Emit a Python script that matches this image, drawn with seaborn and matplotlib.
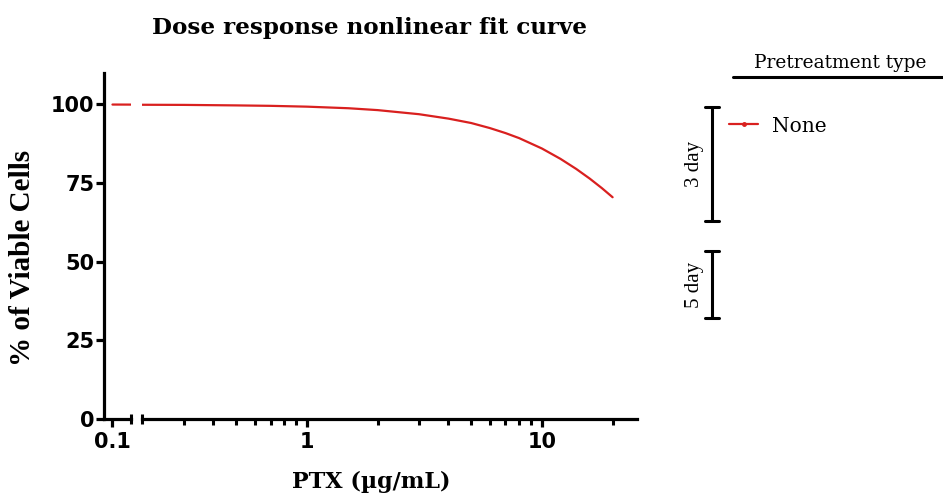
import numpy as np
import pandas as pd
import matplotlib
matplotlib.use("Agg")
import matplotlib.pyplot as plt
import seaborn as sns
from matplotlib.lines import Line2D
from matplotlib.ticker import FixedLocator, FixedFormatter, NullFormatter

# ---- data ----
ptx_conc = [0.1, 0.2, 0.3, 0.5, 0.7, 1, 1.5, 2, 3, 4, 5, 6, 7, 8, 10, 12, 14, 16, 18, 20]
viable_pct = [99.97, 99.9, 99.86, 99.7, 99.56, 99.3, 98.8, 98.2, 96.9, 95.5,
              94.1, 92.5, 90.9, 89.3, 86.0, 82.7, 79.5, 76.4, 73.4, 70.5]
series_name = "None"
y_ticks = [0, 25, 50, 75, 100]
x_major_left = [0.1]
x_major_labels_left = ["0.1"]
x_major_right = [1, 10]
x_major_labels_right = ["1", "10"]
x_minor_right = [0.3, 0.4, 0.5, 0.6, 0.7, 0.8, 0.9, 2, 3, 4, 5, 6, 7, 8, 9, 20]

df = pd.DataFrame({"PTX": ptx_conc, "Viable": viable_pct, "Pretreatment": series_name})

sns.set_style("ticks")
plt.rcParams["font.family"] = ["DejaVu Sans"]
for k in ("text.color", "axes.labelcolor", "xtick.color", "ytick.color", "axes.edgecolor"):
    plt.rcParams[k] = "black"

W, H = 943, 500
fig = plt.figure(figsize=(W / 100, H / 100), dpi=100)

def fx(px):
    return px / W

def fy(py):
    return 1 - py / H

top_px, bot_px = 73, 419
axL = fig.add_axes([fx(104), fy(bot_px), fx(131) - fx(104), (bot_px - top_px) / H])
axR = fig.add_axes([fx(142), fy(bot_px), fx(637) - fx(142), (bot_px - top_px) / H], sharey=axL)

red = "#d9201f"
lw_spine = 2.3
for ax in (axL, axR):
    sns.lineplot(data=df, x="PTX", y="Viable", ax=ax, color=red, linewidth=1.6,
                 estimator=None, sort=True, legend=False)
    ax.set_xscale("log")
    ax.set_xlabel("")
    ax.set_ylabel("")
    for s in ("top", "right"):
        ax.spines[s].set_visible(False)
    ax.spines["bottom"].set_linewidth(lw_spine)
    ax.spines["left"].set_linewidth(lw_spine)

axL.set_ylim(0, 110)
axL.set_yticks(y_ticks)
axL.set_yticklabels([str(v) for v in y_ticks])
axL.set_xlim(0.0922, 0.1195)
axL.xaxis.set_major_locator(FixedLocator(x_major_left))
axL.xaxis.set_major_formatter(FixedFormatter(x_major_labels_left))
axL.xaxis.set_minor_locator(FixedLocator([]))
axL.xaxis.set_minor_formatter(NullFormatter())

axR.set_xlim(0.1986, 25.4)
axR.xaxis.set_major_locator(FixedLocator(x_major_right))
axR.xaxis.set_major_formatter(FixedFormatter(x_major_labels_right))
axR.xaxis.set_minor_locator(FixedLocator(x_minor_right))
axR.xaxis.set_minor_formatter(NullFormatter())
axR.spines["left"].set_visible(False)

for ax in (axL, axR):
    ax.tick_params(axis="x", which="major", bottom=True, width=2.3, length=6,
                   direction="out", pad=3, color="black", labelsize=15, labelcolor="black")
    ax.tick_params(axis="x", which="minor", bottom=True, width=2.2, length=4.5,
                   direction="out", color="black")
    ax.tick_params(axis="y", which="major", width=2.3, length=6, direction="out", pad=1,
                   color="black", labelsize=15, labelcolor="black")
    for lab in ax.get_xticklabels() + ax.get_yticklabels():
        lab.set_fontweight("bold")
axR.tick_params(axis="y", left=False, labelleft=False)

# break caps
cap = 0.014
axL.plot([1, 1], [-cap, cap], transform=axL.transAxes, clip_on=False, color="black", lw=2.2,
         solid_capstyle="butt")
axR.plot([0, 0], [-cap, cap], transform=axR.transAxes, clip_on=False, color="black", lw=2.2,
         solid_capstyle="butt")

wide_serif = ["DejaVu Serif"]
serif = ["Liberation Serif", "DejaVu Serif"]
fig.text(fx(369), fy(28), "Dose response nonlinear fit curve", ha="center", va="center",
         fontsize=16.6, fontweight="bold", family=wide_serif)
fig.text(fx(23), fy(258), "% of Viable Cells", ha="center", va="center", rotation=90,
         fontsize=21, fontweight="bold", family=serif)
fig.text(fx(371), fy(482), "PTX (\u00b5g/mL)", ha="center", va="center",
         fontsize=16, fontweight="bold", family=wide_serif)

# legend block
fig.text(fx(840), fy(63), "Pretreatment type", ha="center", va="center", fontsize=13.4,
         family=wide_serif)
fig.add_artist(Line2D([fx(733), fx(943)], [fy(77), fy(77)], color="black", lw=2.2))

def bracket(y0, y1, label):
    x = fx(712)
    fig.add_artist(Line2D([x, x], [fy(y0), fy(y1)], color="black", lw=2.2))
    for yy in (y0, y1):
        fig.add_artist(Line2D([fx(705), fx(719)], [fy(yy), fy(yy)], color="black", lw=2.2))
    fig.text(fx(695), fy((y0 + y1) / 2), label, rotation=90, ha="center", va="center",
             fontsize=15, family=serif)

bracket(107, 221, "3 day")
bracket(251, 318, "5 day")

handle = Line2D([], [], color=red, lw=1.6, marker="o", markersize=2.5)
leg = fig.legend(handles=[handle], labels=[series_name], loc="center left",
                 bbox_to_anchor=(fx(729), fy(126)), frameon=False, borderpad=0,
                 borderaxespad=0, handlelength=1.45, handletextpad=0.7,
                 prop={"family": wide_serif, "size": 14.5})

fig.savefig("out.png", dpi=100)
